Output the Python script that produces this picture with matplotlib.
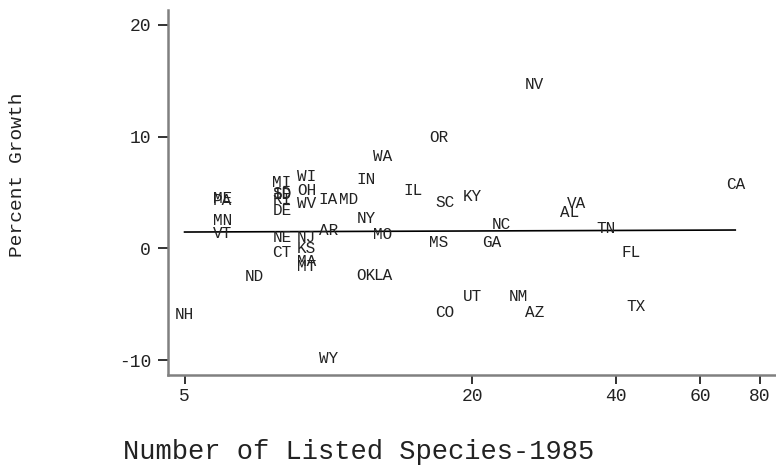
"""
Percent growth vs number of listed species (1985), state labels
"""

### Import modules
import numpy as np
import matplotlib
matplotlib.use('Agg')
import matplotlib.pyplot as plt
from matplotlib.ticker import FixedLocator, FixedFormatter, NullLocator

### Data
states = ['NH','ME','PA','MN','VT','ND','MI','SD','ID','RI','DE','NE','CT',
          'WI','OH','WV','NJ','KS','MA','MT','IA','MD','AR','IN','NY','MO',
          'OK','LA','WA','WY','IL','OR','SC','KY','MS','NC','GA','UT','CO',
          'NM','AZ','NV','VA','AL','TN','FL','TX','CA']
species = [5,6,6,6,6,7,8,8,8,8,8,8,8,
           9,9,9,9,9,9,9,10,11,10,12,12,13,
           12,13,13,10,15,17,17.5,20,17,23,22,20,17.5,
           25,27,27,33,32,38,43,44,71]
growth = [-5.9,4.5,4.3,2.5,1.3,-2.5,5.9,4.95,4.85,4.4,3.35,1.0,-0.4,
          6.4,5.2,4.0,1.0,-0.05,-1.15,-1.6,4.4,4.4,1.6,6.2,2.7,1.2,
          -2.4,-2.4,8.2,-9.9,5.2,9.9,4.1,4.6,0.55,2.1,0.55,-4.35,-5.7,
          -4.35,-5.7,14.7,4.05,3.25,1.8,-0.4,-5.2,5.75]

### Fitted line end points
fit_x = [5, 71]
fit_y = [1.46, 1.64]

xticks = [5, 20, 40, 60, 80]
yticks = [-10, 0, 10, 20]

###############################################################################
### Plot figure
plt.rcParams['font.family'] = ['Liberation Mono', 'DejaVu Sans Mono']

fig = plt.figure(figsize=(7.76, 4.68), dpi=100)
ax = fig.add_axes([0.2161, 0.1987, 0.7839, 0.7800])

ax.set_xscale('log')
ax.set_xlim(4.61, 86.4)
ax.set_ylim(-11.34, 21.34)

ax.plot(fit_x, fit_y, color='black', linewidth=1.2, zorder=2)

for st, xv, yv in zip(states, species, growth):
    ax.text(xv, yv, st, fontsize=11.5, color='#222222',
            ha='center', va='center', zorder=3)

### Axes styling
for loc in ['top', 'right']:
    ax.spines[loc].set_visible(False)
for loc in ['left', 'bottom']:
    ax.spines[loc].set_color('#808080')
    ax.spines[loc].set_linewidth(1.8)

ax.xaxis.set_major_locator(FixedLocator(xticks))
ax.xaxis.set_major_formatter(FixedFormatter([str(t) for t in xticks]))
ax.xaxis.set_minor_locator(NullLocator())
ax.set_yticks(yticks)
ax.set_yticklabels([str(t) for t in yticks])

ax.tick_params(axis='x', length=6.5, width=1.3, color='#222222',
               labelsize=13, labelcolor='#222222', pad=3)
ax.tick_params(axis='y', length=7, width=1.3, color='#222222',
               labelsize=13, labelcolor='#222222', pad=5)

fig.text(359/776, 1-452/468, 'Number of Listed Species-1985', fontsize=19.5,
         color='#222222', ha='center', va='center')
fig.text(18/776, 1-175/468, 'Percent Growth', fontsize=14, rotation=90,
         color='#222222', ha='center', va='center')

plt.savefig('out.png', dpi=100)
